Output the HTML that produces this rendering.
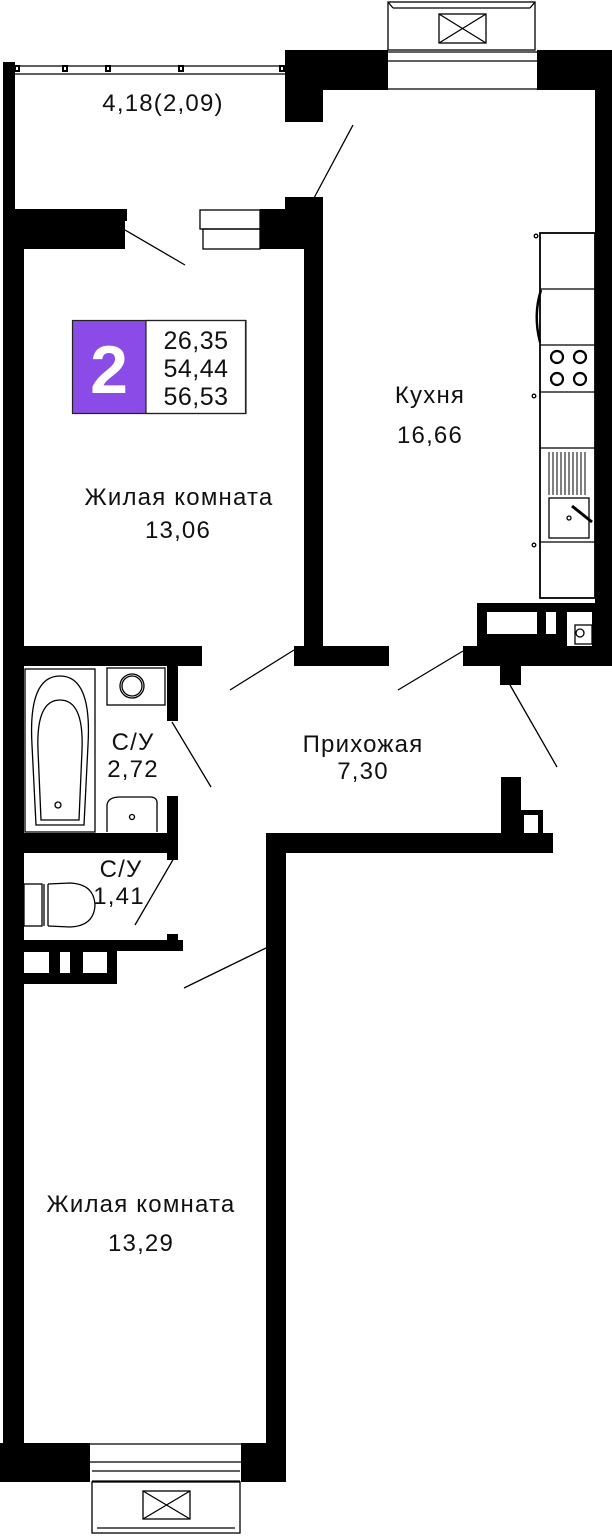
<!DOCTYPE html>
<html><head><meta charset="utf-8"><style>
html,body{margin:0;padding:0;background:#fff;}
svg{display:block;}
text{font-family:"Liberation Sans",sans-serif;fill:#111;}
</style></head><body>
<svg width="612" height="1536" viewBox="0 0 612 1536" xmlns="http://www.w3.org/2000/svg">
<g fill="#000">
<rect x="3" y="62" width="12" height="160"/>
<rect x="3" y="209" width="21" height="1273"/>
<rect x="3" y="209" width="124" height="12"/>
<rect x="3" y="219" width="122" height="30"/>
<rect x="260" y="209" width="63" height="40"/>
<rect x="285" y="197" width="38" height="14"/>
<rect x="304" y="197" width="19" height="453"/>
<rect x="285" y="50" width="103" height="40"/>
<rect x="285" y="88" width="38" height="34"/>
<rect x="537" y="50" width="75" height="40"/>
<rect x="595" y="50" width="17" height="616"/>
<rect x="24" y="646" width="178" height="20"/>
<rect x="294" y="646" width="95" height="20"/>
<rect x="463" y="646" width="149" height="20"/>
<rect x="500" y="664" width="21" height="21"/>
<rect x="167" y="664" width="11" height="57"/>
<rect x="167" y="796" width="11" height="64"/>
<rect x="24" y="833" width="154" height="20"/>
<rect x="24" y="940" width="159" height="11"/>
<rect x="167" y="934" width="11" height="8"/>
<rect x="24" y="950" width="93" height="34"/>
<rect x="266" y="833" width="20" height="649"/>
<rect x="266" y="833" width="287" height="20"/>
<rect x="501" y="777" width="20" height="58"/>
<rect x="519" y="810" width="24" height="25"/>
<rect x="0" y="1443" width="90" height="39"/>
<rect x="241" y="1443" width="45" height="39"/>
<rect x="477" y="603" width="118" height="45"/>
</g>
<g fill="#fff">
<rect x="24" y="952" width="25" height="21"/>
<rect x="60" y="952" width="10" height="21"/>
<rect x="83" y="952" width="24" height="21"/>
<rect x="524" y="815" width="14" height="18"/>
<rect x="487" y="612" width="50" height="22"/>
<rect x="546" y="612" width="10" height="22"/>
<rect x="567" y="612" width="25" height="34"/>
</g>
<g fill="none" stroke="#000" stroke-width="1.3">
<circle cx="580" cy="633" r="4"/>
<rect x="575" y="625" width="17" height="19"/>
<line x1="15" y1="66" x2="285" y2="66"/>
<line x1="15" y1="74" x2="285" y2="74"/>
<rect x="15" y="66" width="4" height="5" stroke-width="2"/>
<rect x="63" y="66" width="4" height="5" stroke-width="2"/>
<rect x="106" y="66" width="4" height="5" stroke-width="2"/>
<rect x="179" y="66" width="4" height="5" stroke-width="2"/>
<rect x="280" y="66" width="4" height="5" stroke-width="2"/>
<rect x="388" y="2" width="147" height="48"/>
<line x1="388" y1="2" x2="393" y2="8"/><line x1="535" y1="2" x2="530" y2="8"/>
<line x1="393" y1="8" x2="530" y2="8"/>
<rect x="439" y="14" width="47" height="29"/>
<line x1="439" y1="14" x2="486" y2="43"/><line x1="486" y1="14" x2="439" y2="43"/>
<line x1="388" y1="52" x2="537" y2="52"/>
<line x1="388" y1="61" x2="537" y2="61"/>
<line x1="388" y1="89" x2="537" y2="89"/>
<rect x="200" y="210" width="60" height="19"/>
<rect x="203" y="229" width="57" height="20"/>
<line x1="125" y1="230" x2="185" y2="265"/>
<line x1="314" y1="198" x2="353" y2="125"/>
<line x1="230" y1="690" x2="294" y2="650"/>
<line x1="398" y1="690" x2="463" y2="651"/>
<line x1="510" y1="685" x2="557" y2="767"/>
<line x1="172" y1="722" x2="211" y2="787"/>
<line x1="174" y1="858" x2="135" y2="925"/>
<line x1="184" y1="988" x2="266" y2="948"/>
<line x1="90" y1="1444" x2="241" y2="1444"/>
<line x1="90" y1="1462" x2="241" y2="1462"/>
<line x1="92" y1="1471" x2="240" y2="1471"/>
<line x1="92" y1="1481" x2="240" y2="1481"/>
<rect x="92" y="1482" width="148" height="51"/>
<line x1="97" y1="1528" x2="235" y2="1528"/>
<rect x="143" y="1491" width="47" height="28"/>
<line x1="143" y1="1491" x2="190" y2="1519"/><line x1="190" y1="1491" x2="143" y2="1519"/>
<rect x="540" y="233" width="55" height="365" stroke-width="1.8"/>
<line x1="540" y1="289" x2="595" y2="289"/>
<line x1="540" y1="345" x2="595" y2="345"/>
<line x1="540" y1="392" x2="595" y2="392"/>
<line x1="540" y1="448" x2="595" y2="448"/>
<line x1="540" y1="542" x2="595" y2="542"/>
<path d="M541 290 Q533 315 540 342" stroke-width="2.5"/>
<circle cx="536" cy="236" r="1.8"/><circle cx="534" cy="396" r="1.8"/><circle cx="534" cy="545" r="1.8"/>
<g stroke-width="2.2">
<circle cx="557" cy="357" r="6"/><circle cx="580" cy="357" r="6"/>
<circle cx="557" cy="379" r="6"/><circle cx="580" cy="379" r="6"/>
</g>
<g stroke-width="1">
<line x1="549" y1="452" x2="549" y2="495"/><line x1="553" y1="452" x2="553" y2="495"/>
<line x1="557" y1="452" x2="557" y2="495"/><line x1="561" y1="452" x2="561" y2="495"/>
<line x1="565" y1="452" x2="565" y2="495"/><line x1="569" y1="452" x2="569" y2="495"/>
<line x1="573" y1="452" x2="573" y2="495"/><line x1="577" y1="452" x2="577" y2="495"/>
<line x1="581" y1="452" x2="581" y2="495"/><line x1="585" y1="452" x2="585" y2="495"/>
</g>
<rect x="549" y="498" width="40" height="40"/>
<line x1="572" y1="506" x2="592" y2="522" stroke-width="3"/>
<circle cx="569" cy="518" r="2"/>
<rect x="25" y="669" width="70" height="163"/>
<path d="M32 745 Q28 676 60 676 Q92 676 88 745 L84 825 L36 825 Z"/>
<path d="M38 750 Q36 700 60 700 Q84 700 82 750 L79 820 L41 820 Z"/>
<circle cx="58" cy="805" r="3"/>
<rect x="107" y="668" width="58" height="37"/>
<circle cx="132" cy="686" r="12"/><circle cx="132" cy="686" r="10"/>
<path d="M107 832 L107 805 Q108 797 120 797 L150 797 Q158 797 157 805 L157 832"/>
<circle cx="132" cy="817" r="2.5"/>
<rect x="24" y="884" width="18" height="42"/>
<line x1="44" y1="884" x2="44" y2="926"/><line x1="48" y1="884" x2="48" y2="926"/>
<path d="M48 884 L70 883 Q94 884 95 905 Q94 926 70 927 L48 926"/>
</g>
<rect x="72" y="320" width="74" height="94" fill="#8a4be6"/>
<rect x="146" y="320.5" width="100" height="93" fill="#fff" stroke="#222" stroke-width="1.2"/>
<rect x="72.5" y="320.5" width="173" height="93" fill="none" stroke="#222" stroke-width="1.2"/>
<text x="109" y="393" font-size="68" font-weight="bold" text-anchor="middle" style="fill:#fff">2</text>
<g font-size="25" text-anchor="middle" letter-spacing="0.5">
<text x="196" y="349">26,35</text>
<text x="196" y="377">54,44</text>
<text x="196" y="405">56,53</text>
</g>
<g font-size="24" text-anchor="middle" letter-spacing="1.2">
<text x="163" y="111">4,18(2,09)</text>
<text x="430" y="403">Кухня</text>
<text x="430" y="443">16,66</text>
<text x="179" y="505">Жилая комната</text>
<text x="178" y="538">13,06</text>
<text x="133" y="750">С/У</text>
<text x="133" y="777">2,72</text>
<text x="121" y="877">С/У</text>
<text x="119" y="904">1,41</text>
<text x="363" y="752">Прихожая</text>
<text x="363" y="779">7,30</text>
<text x="141" y="1212">Жилая комната</text>
<text x="141" y="1251">13,29</text>
</g>
</svg>
</body></html>
